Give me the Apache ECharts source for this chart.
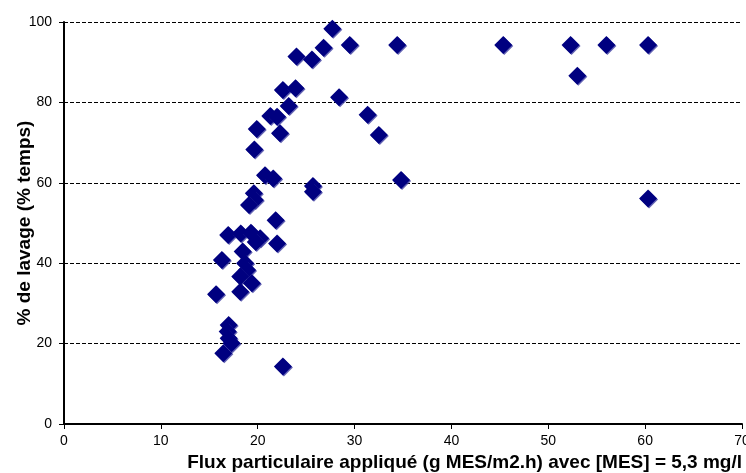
<!DOCTYPE html>
<html>
<head>
<meta charset="utf-8">
<script src="https://cdn.jsdelivr.net/npm/echarts@6/dist/echarts.min.js"></script>
<style>
html,body{margin:0;padding:0;background:#fff;}
#chart{width:746px;height:473px;}
</style>
</head>
<body>
<div id="chart"></div>
<script>
var xTitle = 'Flux particulaire appliqué (g MES/m2.h) avec [MES] = 5,3 mg/l';
var yTitle = '% de lavage (% temps)';
var xTicks = [0, 10, 20, 30, 40, 50, 60, 70];
var yTicks = [0, 20, 40, 60, 80, 100];
var fluxValues = [
  27.7, 29.5, 26.8, 24.0, 25.6, 34.4, 45.35, 52.3, 56.0, 60.3,
  53.0, 22.6, 23.9, 28.4, 23.2, 21.3, 22.0, 31.35, 19.9, 22.3,
  32.5, 19.65, 20.75, 21.6, 25.7, 25.7, 34.8, 60.3, 19.6, 19.7,
  19.1, 21.85, 16.95, 18.25, 19.3, 20.25, 19.8, 22.0, 16.3, 18.45,
  18.7, 18.9, 18.2, 19.4, 18.2, 15.7, 17.0, 16.9, 17.0, 17.3,
  16.45, 22.6
];
var lavageValues = [
  98.3, 94.3, 93.6, 91.4, 90.7, 94.3, 94.3, 94.3, 94.3, 94.3,
  86.6, 83.1, 83.5, 81.3, 79.1, 76.6, 76.4, 76.9, 73.4, 72.3,
  71.9, 68.3, 61.9, 61.1, 59.2, 57.8, 60.7, 56.1, 57.4, 55.7,
  54.5, 50.7, 47.0, 47.4, 47.6, 46.2, 45.3, 44.9, 40.8, 42.9,
  40.0, 38.3, 36.7, 35.0, 32.9, 32.3, 24.6, 23.0, 21.3, 20.1,
  17.6, 14.3
];

var points = fluxValues.map(function (x, i) { return [x, lavageValues[i]]; });

var chart = echarts.init(document.getElementById('chart'), null, {renderer: 'canvas'});
chart.setOption({
  animation: false,
  backgroundColor: '#fff',
  title: {
    text: xTitle,
    right: 4,
    top: 453,
    padding: 0,
    textStyle: {fontFamily: 'Liberation Sans, Arial, sans-serif', fontWeight: 'bold', fontSize: 19, color: '#000'}
  },
  grid: {left: 64, right: 4, top: 22, bottom: 49, containLabel: false, outerBoundsMode: 'none'},
  xAxis: {
    type: 'value',
    min: xTicks[0],
    max: xTicks[xTicks.length - 1],
    interval: 10,
    axisLine: {show: true, lineStyle: {color: '#000', width: 2}},
    axisTick: {show: true, length: 5, lineStyle: {color: '#000', width: 1}},
    axisLabel: {margin: 10, color: '#000', fontSize: 14, fontFamily: 'Liberation Sans, Arial, sans-serif'},
    splitLine: {show: false}
  },
  yAxis: {
    type: 'value',
    min: yTicks[0],
    max: yTicks[yTicks.length - 1],
    interval: 20,
    name: yTitle,
    nameLocation: 'middle',
    nameGap: 30,
    nameMoveOverlap: false,
    nameTextStyle: {fontFamily: 'Liberation Sans, Arial, sans-serif', fontWeight: 'bold', fontSize: 19, color: '#000'},
    axisLine: {show: true, lineStyle: {color: '#000', width: 2}},
    axisTick: {show: true, length: 5, lineStyle: {color: '#000', width: 1}},
    axisLabel: {margin: 12, color: '#000', fontSize: 14, fontFamily: 'Liberation Sans, Arial, sans-serif'},
    splitLine: {show: true, lineStyle: {color: '#000', width: 1, type: [4, 2]}}
  },
  series: [{
    type: 'scatter',
    symbol: 'diamond',
    symbolSize: 18,
    data: points,
    itemStyle: {color: '#000080', opacity: 1, shadowColor: 'rgba(60,60,160,0.8)', shadowOffsetX: 1, shadowOffsetY: 1, shadowBlur: 0}
  }]
});
</script>
</body>
</html>
